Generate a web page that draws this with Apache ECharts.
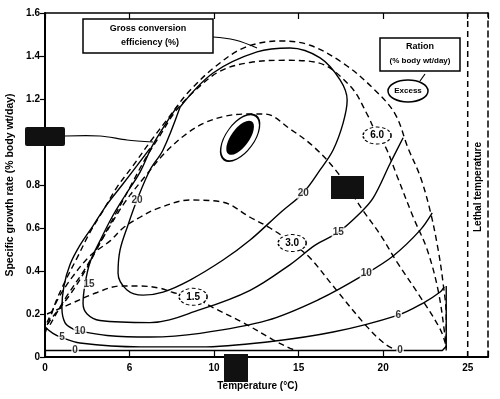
<!DOCTYPE html>
<html>
<head>
<meta charset="utf-8">
<script src="https://cdn.jsdelivr.net/npm/echarts@6/dist/echarts.min.js"></script>
<style>
html, body { margin: 0; padding: 0; background: #fff; }
#chart { width: 500px; height: 399px; }
</style>
</head>
<body>
<div id="chart"></div>
<script>
// axis ticks
const xTicks = [0, 5, 10, 15, 20, 25];
const xTickText = ['0', '6', '10', '15', '20', '25'];
const lethalTemp = 25;

// ration isopleths (dashed), points are [temperature, growth rate]
const rationExcess = [[0, 0.11], [0.3, 0.18], [0.71, 0.27], [1.24, 0.36], [1.89, 0.46], [2.66, 0.58], [3.43, 0.68], [4.26, 0.79], [5.21, 0.89], [6.21, 1.0], [7.28, 1.11], [8.46, 1.23], [10.06, 1.35], [11.83, 1.44], [13.91, 1.47], [15.68, 1.45], [17.75, 1.36], [19.53, 1.24], [20.71, 1.13], [21.48, 0.97], [22.19, 0.84], [22.78, 0.68], [23.25, 0.5], [23.55, 0.34], [23.73, 0.19], [23.73, 0.04]];
const ration60 = [[0.12, 0.15], [0.59, 0.2], [1.48, 0.29], [2.37, 0.4], [3.25, 0.53], [4.14, 0.66], [5.03, 0.79], [5.92, 0.92], [6.8, 1.03], [7.69, 1.14], [8.88, 1.24], [10.36, 1.33], [12.13, 1.37], [14.2, 1.38], [16.09, 1.37], [18.05, 1.26], [19.11, 1.12], [19.64, 1.03], [20.12, 0.98], [20.83, 0.84], [21.78, 0.65], [22.6, 0.5], [23.25, 0.31], [23.67, 0.09], [23.73, 0.03]];
const rationMid = [[0.3, 0.15], [1.18, 0.27], [2.37, 0.41], [3.55, 0.57], [4.73, 0.72], [5.92, 0.84], [7.1, 0.95], [8.4, 1.04], [9.47, 1.09], [10.65, 1.12], [11.83, 1.13], [13.02, 1.13], [14.5, 1.06], [15.86, 0.98], [17.28, 0.86], [18.82, 0.68], [19.82, 0.57], [20.83, 0.44], [22.19, 0.28], [23.37, 0.13], [23.73, 0.05]];
const ration30 = [[0.12, 0.16], [0.77, 0.27], [1.6, 0.37], [2.66, 0.47], [3.85, 0.54], [4.62, 0.6], [5.62, 0.65], [6.63, 0.69], [8.58, 0.73], [10.53, 0.72], [12.13, 0.65], [13.31, 0.6], [14.62, 0.53], [15.68, 0.46], [17.04, 0.33], [19.05, 0.14], [20.12, 0.06], [20.83, 0.03]];
const ration15 = [[0.12, 0.2], [1.3, 0.24], [3.08, 0.3], [4.44, 0.33], [5.62, 0.33], [6.8, 0.32], [7.57, 0.3], [8.76, 0.28], [9.94, 0.23], [11.72, 0.16], [13.49, 0.08], [14.5, 0.04], [14.9, 0.03]];

// gross conversion efficiency isopleths (solid)
const eff0 = [[0, 0.03], [23.5, 0.03], [23.73, 0.05], [23.73, 0.33]];
const eff5 = [[0, 0.14], [0.47, 0.11], [1.0, 0.09], [2.07, 0.065], [5.62, 0.047], [9.17, 0.047], [13.14, 0.07], [17.04, 0.116], [20.89, 0.195], [22.37, 0.251], [23.37, 0.302], [23.61, 0.326]];
const eff10 = [[6.21, 0.97], [5.44, 0.89], [4.56, 0.8], [3.67, 0.71], [2.84, 0.61], [2.07, 0.52], [1.48, 0.43], [1.12, 0.33], [1.0, 0.23], [1.18, 0.16], [1.66, 0.13], [2.07, 0.12], [3.67, 0.1], [6.21, 0.093], [9.17, 0.11], [13.14, 0.17], [16.27, 0.27], [18.82, 0.38], [20.59, 0.47], [22.19, 0.59], [22.9, 0.67]];
const eff15 = [[7.87, 1.17], [7.1, 1.08], [6.33, 0.98], [5.62, 0.86], [4.73, 0.75], [3.96, 0.65], [3.25, 0.54], [2.66, 0.44], [2.37, 0.34], [2.25, 0.25], [2.49, 0.2], [3.25, 0.17], [6.21, 0.16], [9.17, 0.22], [12.13, 0.31], [14.5, 0.43], [15.98, 0.52], [17.34, 0.58], [18.64, 0.67], [19.41, 0.74], [20.41, 0.9], [21.18, 1.02]];
const eff20 = [[7.99, 1.163], [9.94, 1.321], [12.54, 1.419], [14.5, 1.437], [16.27, 1.391], [17.46, 1.288], [17.87, 1.195], [17.63, 1.088], [17.04, 0.963], [16.27, 0.87], [15.27, 0.763], [13.9, 0.67], [12.13, 0.544], [10.53, 0.451], [8.58, 0.358], [6.98, 0.302], [5.8, 0.288], [4.85, 0.312], [4.32, 0.391], [4.44, 0.498], [4.91, 0.614], [5.44, 0.73], [6.21, 0.87], [6.98, 0.963], [7.99, 1.163]];

// curve labels
const effLabels = [[1.78, 0.03, '0'], [21.0, 0.03, '0'], [1.0, 0.09, '5'], [20.89, 0.195, '6'], [2.07, 0.12, '10'], [19.0, 0.39, '10'], [2.6, 0.34, '15'], [17.34, 0.58, '15'], [5.44, 0.73, '20'], [15.27, 0.76, '20']];
const rationLabels = [[19.64, 1.03, '6.0'], [14.62, 0.53, '3.0'], [8.76, 0.28, '1.5']];
const optimum = [[11.54, 1.02]];

const font = 'Liberation Sans, Arial, sans-serif';

function solid(name, data, smooth) {
  return {
    name: name,
    type: 'line',
    data: data,
    showSymbol: false,
    smooth: smooth,
    lineStyle: { color: '#000', width: 1.4 },
    z: 3
  };
}

function dashed(name, data) {
  return {
    name: name,
    type: 'line',
    data: data,
    showSymbol: false,
    smooth: 0.35,
    lineStyle: { color: '#000', width: 1.4, type: [6, 4] },
    z: 2
  };
}

const chart = echarts.init(document.getElementById('chart'));

chart.setOption({
  animation: false,
  backgroundColor: '#fff',
  textStyle: { fontFamily: font },
  grid: { left: 45, right: 12, top: 13, bottom: 42, containLabel: false, outerBoundsMode: 'none' },
  xAxis: [
    {
      type: 'value',
      min: 0,
      max: 26.2,
      interval: 5,
      name: 'Temperature (°C)',
      nameLocation: 'middle',
      nameGap: 24,
      nameTextStyle: { fontSize: 10, fontWeight: 'bold', color: '#000', padding: [0, 18, 0, 0] },
      axisLine: { onZero: false, lineStyle: { color: '#000', width: 2 } },
      axisTick: { inside: true, length: 6, lineStyle: { color: '#000', width: 1.2 } },
      axisLabel: {
        color: '#000',
        fontSize: 10,
        fontWeight: 'bold',
        margin: 6,
        formatter: function (v) {
          const i = xTicks.indexOf(v);
          return i >= 0 ? xTickText[i] : '';
        }
      },
      splitLine: { show: false }
    },
    {
      type: 'value',
      position: 'top',
      min: 0,
      max: 26.2,
      interval: 5,
      axisLine: { onZero: false, lineStyle: { color: '#000', width: 1.5 } },
      axisTick: { inside: true, length: 6, lineStyle: { color: '#000', width: 1.2 } },
      axisLabel: { show: false },
      splitLine: { show: false }
    }
  ],
  yAxis: [
    {
      type: 'value',
      min: 0,
      max: 1.6,
      interval: 0.2,
      name: 'Specific growth rate (% body wt/day)',
      nameLocation: 'middle',
      nameGap: 28,
      nameTextStyle: { fontSize: 10.5, fontWeight: 'bold', color: '#000' },
      axisLine: { show: true, onZero: false, lineStyle: { color: '#000', width: 2 } },
      axisTick: { length: 5, lineStyle: { color: '#000', width: 1.2 } },
      axisLabel: {
        color: '#000',
        fontSize: 10,
        fontWeight: 'bold',
        margin: 5,
        formatter: function (v) { return v === 0 ? '0' : v.toFixed(1); }
      },
      splitLine: { show: false }
    },
    {
      type: 'value',
      position: 'right',
      min: 0,
      max: 1.6,
      axisLine: { show: true, onZero: false, lineStyle: { color: '#000', width: 1.5, type: [6, 4] } },
      axisTick: { show: false },
      axisLabel: { show: false },
      splitLine: { show: false }
    }
  ],
  series: [
    dashed('Excess', rationExcess),
    dashed('6.0', ration60),
    dashed('mid', rationMid),
    dashed('3.0', ration30),
    dashed('1.5', ration15),
    {
      name: 'Lethal',
      type: 'line',
      data: [[lethalTemp, 0], [lethalTemp, 1.6]],
      showSymbol: false,
      lineStyle: { color: '#000', width: 1.5, type: [6, 4] },
      z: 2
    },
    solid('0', eff0, false),
    solid('5', eff5, 0.35),
    solid('10', eff10, 0.35),
    solid('15', eff15, 0.35),
    solid('20', eff20, 0.35),
    {
      name: 'optimum',
      type: 'scatter',
      data: optimum,
      symbol: 'circle',
      symbolSize: [28, 54],
      symbolRotate: -36,
      itemStyle: { color: '#fff', borderColor: '#000', borderWidth: 1.5, opacity: 1 },
      z: 6
    },
    {
      name: 'optimumCore',
      type: 'scatter',
      data: optimum,
      symbol: 'circle',
      symbolSize: [18, 40],
      symbolRotate: -36,
      itemStyle: { color: '#000', opacity: 1 },
      z: 7
    },
    {
      name: 'effLabels',
      type: 'scatter',
      data: effLabels,
      symbolSize: 0,
      label: {
        show: true,
        position: 'inside',
        formatter: function (p) { return p.value[2]; },
        color: '#000',
        fontSize: 10,
        fontWeight: 'bold',
        backgroundColor: '#fff',
        padding: [0, 1]
      },
      z: 8
    },
    {
      name: 'rationLabels',
      type: 'scatter',
      data: rationLabels,
      symbol: 'circle',
      symbolSize: [28, 17],
      itemStyle: { color: '#fff', borderColor: '#000', borderWidth: 1.2, borderType: [3, 2], opacity: 1 },
      label: {
        show: true,
        position: 'inside',
        formatter: function (p) { return p.value[2]; },
        color: '#000',
        fontSize: 10,
        fontWeight: 'bold'
      },
      z: 8
    }
  ],
  graphic: [
    {
      type: 'rect',
      shape: { x: 83, y: 19, width: 130, height: 34 },
      style: { fill: '#fff', stroke: '#000', lineWidth: 1.5 },
      z: 100
    },
    {
      type: 'text',
      x: 148, y: 29,
      style: { text: 'Gross conversion', fontSize: 9, fontWeight: 'bold', fontFamily: font, fill: '#000', align: 'center', verticalAlign: 'middle' },
      z: 101
    },
    {
      type: 'text',
      x: 150, y: 43,
      style: { text: 'efficiency (%)', fontSize: 9, fontWeight: 'bold', fontFamily: font, fill: '#000', align: 'center', verticalAlign: 'middle' },
      z: 101
    },
    {
      type: 'polyline',
      shape: { points: [[213, 37], [235, 40], [257, 48]], smooth: 0.4 },
      style: { stroke: '#000', lineWidth: 1.2, fill: null },
      z: 100
    },
    {
      type: 'rect',
      shape: { x: 380, y: 38, width: 80, height: 33 },
      style: { fill: '#fff', stroke: '#000', lineWidth: 1.5 },
      z: 100
    },
    {
      type: 'text',
      x: 420, y: 47,
      style: { text: 'Ration', fontSize: 9, fontWeight: 'bold', fontFamily: font, fill: '#000', align: 'center', verticalAlign: 'middle' },
      z: 101
    },
    {
      type: 'text',
      x: 420, y: 61,
      style: { text: '(% body wt/day)', fontSize: 8, fontWeight: 'bold', fontFamily: font, fill: '#000', align: 'center', verticalAlign: 'middle' },
      z: 101
    },
    {
      type: 'ellipse',
      shape: { cx: 408, cy: 91, rx: 20, ry: 11 },
      style: { fill: '#fff', stroke: '#000', lineWidth: 1.5 },
      z: 100
    },
    {
      type: 'text',
      x: 408, y: 91,
      style: { text: 'Excess', fontSize: 8, fontWeight: 'bold', fontFamily: font, fill: '#000', align: 'center', verticalAlign: 'middle' },
      z: 101
    },
    {
      type: 'line',
      shape: { x1: 420, y1: 81, x2: 425, y2: 74 },
      style: { stroke: '#000', lineWidth: 1.2 },
      z: 100
    },
    {
      type: 'text',
      x: 478, y: 187,
      rotation: Math.PI / 2,
      style: { text: 'Lethal temperature', fontSize: 10, fontWeight: 'bold', fontFamily: font, fill: '#000', align: 'center', verticalAlign: 'middle', backgroundColor: '#fff' },
      z: 101
    },
    {
      type: 'rect',
      shape: { x: 25, y: 127, width: 40, height: 19, r: 2 },
      style: { fill: '#111' },
      z: 100
    },
    {
      type: 'polyline',
      shape: { points: [[65, 136], [100, 136], [127, 140], [153, 142]], smooth: 0.3 },
      style: { stroke: '#000', lineWidth: 1.2, fill: null },
      z: 100
    },
    {
      type: 'rect',
      shape: { x: 331, y: 176, width: 33, height: 23 },
      style: { fill: '#111' },
      z: 100
    },
    {
      type: 'rect',
      shape: { x: 224, y: 354, width: 24, height: 28 },
      style: { fill: '#111' },
      z: 100
    }
  ]
});
</script>
</body>
</html>
